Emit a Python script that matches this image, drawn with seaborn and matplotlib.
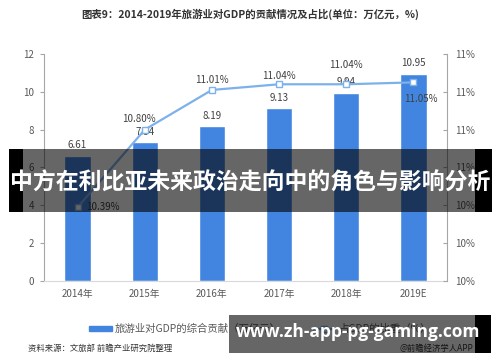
import numpy as np
import pandas as pd
import matplotlib
matplotlib.use("Agg")
import matplotlib.pyplot as plt
from matplotlib.patches import Patch, Rectangle
from matplotlib.lines import Line2D
from matplotlib.ticker import FuncFormatter, MultipleLocator
import seaborn as sns

years = ["2014年", "2015年", "2016年", "2017年", "2018年", "2019E"]
contribution = [6.61, 7.34, 8.19, 9.13, 9.94, 10.95]
share = [10.39, 10.80, 11.01, 11.04, 11.04, 11.05]
share_labels = ["10.39%", "10.80%", "11.01%", "11.04%", "11.04%", "11.05%"]
left_ticks = [0, 2, 4, 6, 8, 10, 12]
right_ticks = [10.0, 10.2, 10.4, 10.6, 10.8, 11.0, 11.2]

title = "图表9：2014-2019年旅游业对GDP的贡献情况及占比(单位：万亿元，%)"
legend_bar = "旅游业对GDP的综合贡献（万亿元）"
legend_line = "占GDP的比重（%）"
source = "资料来源：文旅部 前瞻产业研究院整理"
credit = "@前瞻经济学人APP"
banner_text = "中方在利比亚未来政治走向中的角色与影响分析"
url_text = "www.zh-app-pg-gaming.com"

sns.set_style("white")
plt.rcParams["font.family"] = ["Noto Sans CJK SC", "DejaVu Sans"]

BAR = "#4285E0"
LINE = "#7DB1EA"
TXT = "#595959"

df = pd.DataFrame({"year": years, "val": contribution, "share": share})

fig = plt.figure(figsize=(5, 3.62), dpi=100)
ax = fig.add_axes([0.088, 0.2238, 0.806, 0.627])
sns.barplot(data=df, x="year", y="val", color=BAR, width=0.39, ax=ax,
            saturation=1, zorder=2)
ax.set_xlim(-0.5, len(years) - 0.5)
ax.set_ylim(0, 12)
ax.set_yticks(left_ticks)
ax.set_xlabel("")
ax.set_ylabel("")
ax.tick_params(axis="y", labelsize=7, colors=TXT, length=3, width=0.8,
               direction="out", pad=4)
ax.tick_params(axis="y", colors="#A6A6A6", labelcolor=TXT)
ax.tick_params(axis="x", labelsize=7, labelcolor=TXT, length=0, pad=6)
for s in ["top", "right"]:
    ax.spines[s].set_visible(False)
ax.spines["left"].set_color("#A6A6A6")
ax.spines["bottom"].set_color("#D9D9D9")

for i, v in enumerate(contribution):
    ax.annotate(f"{v:.2f}", (i, v), xytext=(0, 4), textcoords="offset points",
                ha="center", va="bottom", fontsize=7, color="#404040")

ax2 = ax.twinx()
xs = np.arange(len(years))
sns.lineplot(x=xs, y=share, ax=ax2, color=LINE, linewidth=1.6, marker="s",
             markersize=4.5, markerfacecolor="white", markeredgecolor=LINE,
             markeredgewidth=1.0, zorder=3)
ax2.set_ylim(10.0, 11.2)
ax2.set_yticks(right_ticks)
ax2.yaxis.set_major_formatter(FuncFormatter(lambda v, p: f"{v:.0f}%"))
ax2.tick_params(axis="y", labelsize=7, colors="#A6A6A6", labelcolor=TXT,
                length=3, width=0.8, direction="in", pad=6)
ax2.set_ylabel("")
for s in ["top", "left", "bottom"]:
    ax2.spines[s].set_visible(False)
ax2.spines["right"].set_color("#A6A6A6")

offsets = [(6, 0, "left", "center", False),
           (-4, 8, "center", "center", False),
           (0, 7, "center", "center", False),
           (0, 6, "center", "center", False),
           (0, 14, "center", "center", True),
           (5, -12, "center", "center", True)]
for i, (lab, (dx, dy, ha, va, lead)) in enumerate(zip(share_labels, offsets)):
    kw = {}
    if lead:
        kw["arrowprops"] = dict(arrowstyle="-", color="#7F7F7F", lw=0.5,
                                shrinkA=3, shrinkB=3)
    ax2.annotate(lab, (i, share[i]), xytext=(dx, dy), textcoords="offset points",
                 ha=ha, va=va, fontsize=7, color="#404040", **kw)

fig.text(0.5, 0.961, title, ha="center", va="center", fontsize=7.5,
         fontweight="bold", color="#333333")

handles = [Patch(facecolor=BAR, edgecolor=BAR),
           Line2D([0], [0], color=LINE, lw=1.6, marker="s", markersize=4,
                  markerfacecolor="white", markeredgecolor=LINE)]
fig.legend(handles, [legend_bar, legend_line], loc="center",
           bbox_to_anchor=(0.52, 0.091), ncol=2, frameon=False, fontsize=7.5,
           handlelength=2.2, handleheight=0.5, handletextpad=0.3,
           columnspacing=3.0, labelcolor=TXT)

fig.text(0.056, 0.038, source, ha="left", va="center", fontsize=6,
         color="#333333")
fig.text(0.946, 0.036, credit, ha="right", va="center", fontsize=6,
         color="#333333")

# overlay banners
fig.patches.append(Rectangle((0.046, 0.4144), 0.904, 0.174, transform=fig.transFigure,
                             facecolor="black", alpha=0.6, edgecolor="none", zorder=10))
fig.patches.append(Rectangle((0.018, 0.4144), 0.028, 0.174, transform=fig.transFigure,
                             facecolor="black", edgecolor="none", zorder=10))
fig.patches.append(Rectangle((0.950, 0.4144), 0.034, 0.174, transform=fig.transFigure,
                             facecolor="black", edgecolor="none", zorder=10))
fig.text(0.5, 0.494, banner_text, ha="center", va="center", fontsize=16.5,
         fontweight="bold", color="white", zorder=11)

fig.patches.append(Rectangle((0.458, 0.025), 0.492, 0.105, transform=fig.transFigure,
                             facecolor="black", alpha=0.6, edgecolor="none", zorder=10))
fig.patches.append(Rectangle((0.950, 0.025), 0.032, 0.105, transform=fig.transFigure,
                             facecolor="black", edgecolor="none", zorder=10))
fig.text(0.717, 0.083, url_text, ha="center", va="center", fontsize=12.5,
         fontweight="bold", color="white", family=["Open Sans", "DejaVu Sans"],
         zorder=11)

fig.savefig("out.png", dpi=100, facecolor="white")
